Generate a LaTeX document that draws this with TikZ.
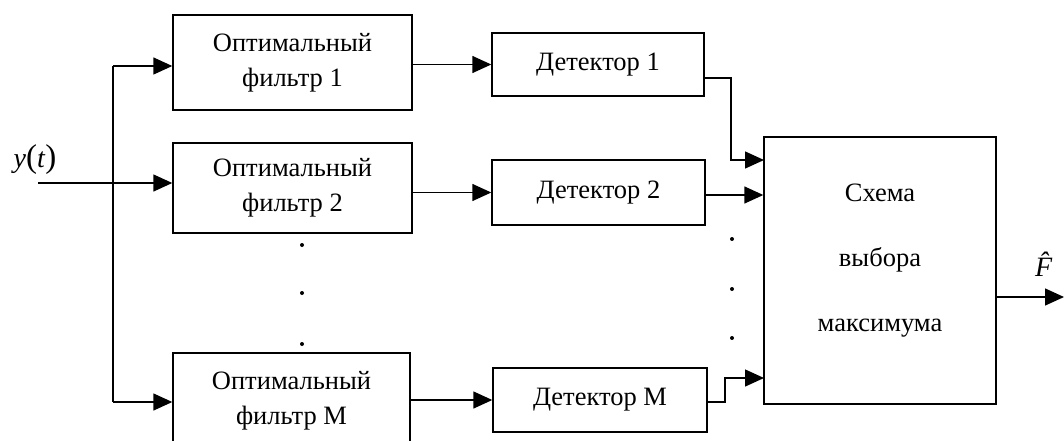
\documentclass[tikz,border=0pt]{standalone}
\usepackage{fontspec}
\setmainfont{Liberation Serif}
\usetikzlibrary{arrows.meta,calc}
\tikzset{
  blk/.style={draw, line width=1.4pt, rectangle, align=center, inner sep=0pt,
    font=\fontsize{26.5}{35}\selectfont},
  wire/.style={line width=1.4pt},
  arr/.style={line width=1.4pt, -{Triangle[length=19pt,width=17pt]}},
  dotm/.style={circle, fill, inner sep=0pt, minimum size=4pt}
}
\begin{document}
\begin{tikzpicture}[x=1pt,y=-1pt]
\useasboundingbox (0,0) rectangle (1064,441);
% filters
\node[blk, minimum width=239pt, minimum height=95pt] (f1) at (292.5,62.5) {Оптимальный\\фильтр 1};
\node[blk, minimum width=239pt, minimum height=90pt] (f2) at (292.5,188) {Оптимальный\\фильтр 2};
\node[blk, minimum width=237pt, minimum height=96pt] (fM) at (291.5,401) {Оптимальный\\фильтр M};
% detectors
\node[blk, minimum width=212pt, minimum height=63pt] (d1) at (598,64.5) {Детектор 1};
\node[blk, minimum width=213pt, minimum height=65pt] (d2) at (598.5,192.5) {Детектор 2};
\node[blk, minimum width=214pt, minimum height=64pt] (dM) at (600,400) {Детектор M};
% decision box
\node[blk, minimum width=232pt, minimum height=267pt] (big) at (880,270.5) {};
\node[align=center, inner sep=0pt, font=\fontsize{26.5}{65}\selectfont] (bigtext) at (880,261) {Схема\\выбора\\максимума};
% input
\node[inner sep=0pt, font=\fontsize{28}{30}\selectfont] (yt) at (35,160) {\textit{y}{\fontsize{33}{33}\selectfont(}\textit{t}{\fontsize{33}{33}\selectfont)}};
\coordinate (inL) at (38,183);
\coordinate (busT) at (113,66);
\coordinate (busB) at (113,402);
\draw[wire] (busT) -- (busB);
\draw[arr] (inL) -- (f2.west |- inL);
\draw[arr] (busT) -- (f1.west |- busT);
\draw[arr] (busB) -- (fM.west |- busB);
% filters to detectors
\draw[arr] (f1.east |- d1.west) -- (d1.west);
\draw[arr] (f2.east |- d2.west) -- (d2.west);
\draw[arr] (fM.east |- dM.west) -- (dM.west);
% detectors to decision
\coordinate (o1) at (704,78);
\coordinate (k1) at (731,78);
\coordinate (e1) at (764,160);
\draw[arr] (o1) -- (k1) |- (e1);
\coordinate (o2) at (705,195);
\draw[arr] (o2) -- (big.west |- o2);
\coordinate (oM) at (707,402);
\coordinate (kM) at (725,402);
\coordinate (eM) at (764,378);
\draw[arr] (oM) -- (kM) |- (eM);
% output
\coordinate (out) at (1064,297);
\draw[arr] (big.east |- out) -- (out);
\node[inner sep=0pt, font=\fontsize{28}{30}\selectfont, anchor=east] (Fh) at (1063,264) {\textit{\^{F}}};
% dots
\node[dotm] (l1) at (302,245) {};
\node[dotm] (l2) at (302,293) {};
\node[dotm] (l3) at (302,344) {};
\node[dotm] (r1) at (732,239) {};
\node[dotm] (r2) at (732,289) {};
\node[dotm] (r3) at (732,338) {};
\end{tikzpicture}
\end{document}
